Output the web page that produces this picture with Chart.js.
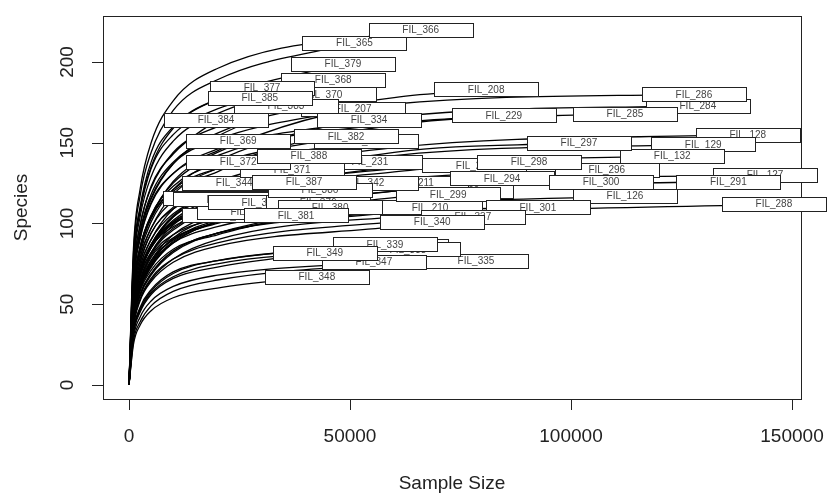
<!DOCTYPE html>
<html>
<head>
<meta charset="utf-8">
<script src="https://cdn.jsdelivr.net/npm/chart.js@4.4.1/dist/chart.umd.min.js"></script>
<style>
  html, body { margin: 0; padding: 0; background: #fff; }
  #wrap { width: 829px; height: 493px; }
</style>
</head>
<body>
<div id="wrap"><canvas id="rarecurve" width="829" height="493"></canvas></div>
<script>
// rarefaction curves, one per sample, labelled at the end point
const sampleNames = ['FIL_126','FIL_127','FIL_128','FIL_129','FIL_132','FIL_207','FIL_208','FIL_209','FIL_210','FIL_211',
  'FIL_229','FIL_230','FIL_231','FIL_232','FIL_284','FIL_285','FIL_286','FIL_288','FIL_291','FIL_294',
  'FIL_296','FIL_297','FIL_298','FIL_299','FIL_300','FIL_301','FIL_334','FIL_335','FIL_336','FIL_337',
  'FIL_338','FIL_339','FIL_340','FIL_342','FIL_344','FIL_345','FIL_346','FIL_347','FIL_348','FIL_349',
  'FIL_365','FIL_366','FIL_368','FIL_369','FIL_370','FIL_371','FIL_372','FIL_373','FIL_374','FIL_375',
  'FIL_376','FIL_377','FIL_379','FIL_380','FIL_381','FIL_382','FIL_383','FIL_384','FIL_385','FIL_386',
  'FIL_387','FIL_388'];
// total reads per sample (end of each curve)
const sampleSizes = [112200,143900,140000,129900,122900,50700,80800,75100,68100,64900,
  84800,78100,54500,53600,128700,112200,127800,145900,135600,84400,
  108100,101800,90500,72200,106800,92500,54300,78500,60400,77800,
  63100,57900,68600,53600,23800,19500,23800,55400,42500,44300,
  51000,66000,46200,24700,44100,36900,24700,27100,21700,29600,
  42800,30100,48400,45500,37800,49100,35500,19700,29600,43200,
  39600,40700];
// observed species at full depth
const speciesTotals = [117,130,155,149,142,171,183,120,110,125,
  167,136,138,151,173,168,180,112,126,128,
  133,150,138,118,126,110,164,77,86,104,
  84,87,101,125,125,116,105,76,67,82,
  212,220,189,151,180,133,138,107,115,113,
  113,184,199,110,105,154,173,164,178,121,
  126,142];
// rarefied species at 1000, 2500, 5000, 10000, 20000 and 60000 reads
const speciesAt1k = [37,42,50,48,45,65,64,42,39,48,
  58,48,52,57,56,54,58,36,40,45,
  43,48,48,41,40,39,62,27,33,36,
  32,33,35,48,53,49,44,29,25,31,
  81,84,72,63,68,51,58,45,48,47,
  43,77,76,42,40,59,66,69,75,46,
  48,54];
const speciesAt2500 = [55,61,73,70,67,94,93,61,56,69,
  85,69,76,83,81,79,85,53,59,65,
  63,71,70,60,59,56,90,39,47,53,
  46,48,52,69,75,70,63,42,37,45,
  117,121,104,91,99,73,83,64,69,68,
  62,110,109,61,58,85,95,98,107,67,
  69,78];
const speciesAt5k = [68,75,90,86,82,116,115,76,69,85,
  105,86,94,103,101,97,104,65,73,81,
  77,87,87,74,73,69,112,49,58,66,
  57,59,64,85,94,87,79,52,46,56,
  144,150,129,113,122,90,104,80,86,85,
  77,138,135,75,71,105,118,123,134,82,
  86,97];
const speciesAt10k = [82,91,109,104,99,137,137,90,83,100,
  125,102,110,121,121,118,126,78,88,96,
  93,105,104,89,88,83,131,58,69,78,
  67,70,76,100,109,101,91,61,54,66,
  170,176,151,131,144,106,120,93,100,98,
  90,160,159,88,84,123,138,143,155,97,
  101,114];
const speciesAt20k = [94,104,124,119,114,152,156,102,94,111,
  142,116,123,134,139,134,144,90,101,109,
  106,120,117,100,101,94,146,65,77,88,
  75,77,86,111,120,null,101,68,60,73,
  189,196,168,145,160,118,132,103,110,108,
  101,177,177,98,93,137,154,null,171,108,
  112,126];
const speciesAt60k = [111,124,147,142,135,null,178,116,107,null,
  162,132,null,null,166,161,174,104,120,124,
  127,144,134,114,120,107,null,75,null,101,
  null,null,98,null,null,null,null,null,null,null,
  null,218,null,null,null,null,null,null,null,null,
  null,null,null,null,null,null,null,null,null,null,
  null,null];

const xTicks = [0, 50000, 100000, 150000];
const yTicks = [0, 50, 100, 150, 200];

const datasets = sampleNames.map(function (name, i) {
    var pts = [{x: 0, y: 0}, {x: 1000, y: speciesAt1k[i]}, {x: 2500, y: speciesAt2500[i]},
        {x: 5000, y: speciesAt5k[i]}, {x: 10000, y: speciesAt10k[i]}];
    if (speciesAt20k[i] !== null) pts.push({x: 20000, y: speciesAt20k[i]});
    if (speciesAt60k[i] !== null) pts.push({x: 60000, y: speciesAt60k[i]});
    pts.push({x: sampleSizes[i], y: speciesTotals[i]});
    return {
        label: name,
        data: pts,
        borderColor: '#000',
        borderWidth: 1.3,
        pointRadius: 0,
        fill: false,
        cubicInterpolationMode: 'monotone'
    };
});

const TXT = "#222";
const FONT = "'Liberation Sans', Arial, Helvetica, sans-serif";

// box, axes and end-of-curve labels drawn R style
const rareFrame = {
    id: 'rareFrame',
    beforeDatasetsDraw: function (chart) {
        var ctx = chart.ctx, a = chart.chartArea;
        var xs = chart.scales.x, ys = chart.scales.y;
        ctx.save();
        ctx.strokeStyle = TXT;
        ctx.lineWidth = 1;
        ctx.strokeRect(Math.round(a.left) + 0.5, Math.round(a.top) + 0.5,
            Math.round(a.right - a.left), Math.round(a.bottom - a.top));

        ctx.fillStyle = TXT;
        ctx.font = '19px ' + FONT;
        ctx.beginPath();
        xTicks.forEach(function (v) {
            var px = Math.round(xs.getPixelForValue(v)) + 0.5;
            ctx.moveTo(px, a.bottom);
            ctx.lineTo(px, a.bottom + 11);
        });
        yTicks.forEach(function (v) {
            var py = Math.round(ys.getPixelForValue(v)) + 0.5;
            ctx.moveTo(a.left, py);
            ctx.lineTo(a.left - 11, py);
        });
        ctx.stroke();

        ctx.textAlign = 'center';
        ctx.textBaseline = 'middle';
        xTicks.forEach(function (v) {
            ctx.fillText(String(v), xs.getPixelForValue(v), a.bottom + 38);
        });
        yTicks.forEach(function (v) {
            ctx.save();
            ctx.translate(a.left - 35, ys.getPixelForValue(v));
            ctx.rotate(-Math.PI / 2);
            ctx.fillText(String(v), 0, 0);
            ctx.restore();
        });

        ctx.fillText('Sample Size', (a.left + a.right) / 2, a.bottom + 85);
        ctx.save();
        ctx.translate(a.left - 81, (a.top + a.bottom) / 2);
        ctx.rotate(-Math.PI / 2);
        ctx.fillText('Species', 0, 0);
        ctx.restore();
        ctx.restore();
    },
    afterDatasetsDraw: function (chart) {
        var ctx = chart.ctx;
        var xs = chart.scales.x, ys = chart.scales.y;
        var w = 104, h = 14;
        ctx.save();
        ctx.font = '10px ' + FONT;
        ctx.textAlign = 'center';
        ctx.textBaseline = 'middle';
        ctx.lineWidth = 1;
        sampleNames.forEach(function (name, i) {
            var cx = xs.getPixelForValue(sampleSizes[i]);
            var cy = ys.getPixelForValue(speciesTotals[i]);
            var l = Math.round(cx - w / 2) + 0.5, t = Math.round(cy - h / 2) + 0.5;
            ctx.fillStyle = '#fff';
            ctx.fillRect(l, t, w, h);
            ctx.strokeStyle = '#222';
            ctx.strokeRect(l, t, w, h);
            ctx.fillStyle = '#444';
            ctx.fillText(name, cx, cy + 0.5);
        });
        ctx.restore();
    }
};

new Chart(document.getElementById('rarecurve'), {
    type: 'line',
    data: { datasets: datasets },
    options: {
        responsive: false,
        animation: false,
        layout: { padding: { left: 103, top: 16, right: 28, bottom: 94 } },
        plugins: { legend: { display: false }, tooltip: { enabled: false } },
        scales: {
            x: { type: 'linear', min: -5882, max: 152036, display: false },
            y: { type: 'linear', min: -8.7, max: 228.5, display: false }
        }
    },
    plugins: [rareFrame]
});
</script>
</body>
</html>
